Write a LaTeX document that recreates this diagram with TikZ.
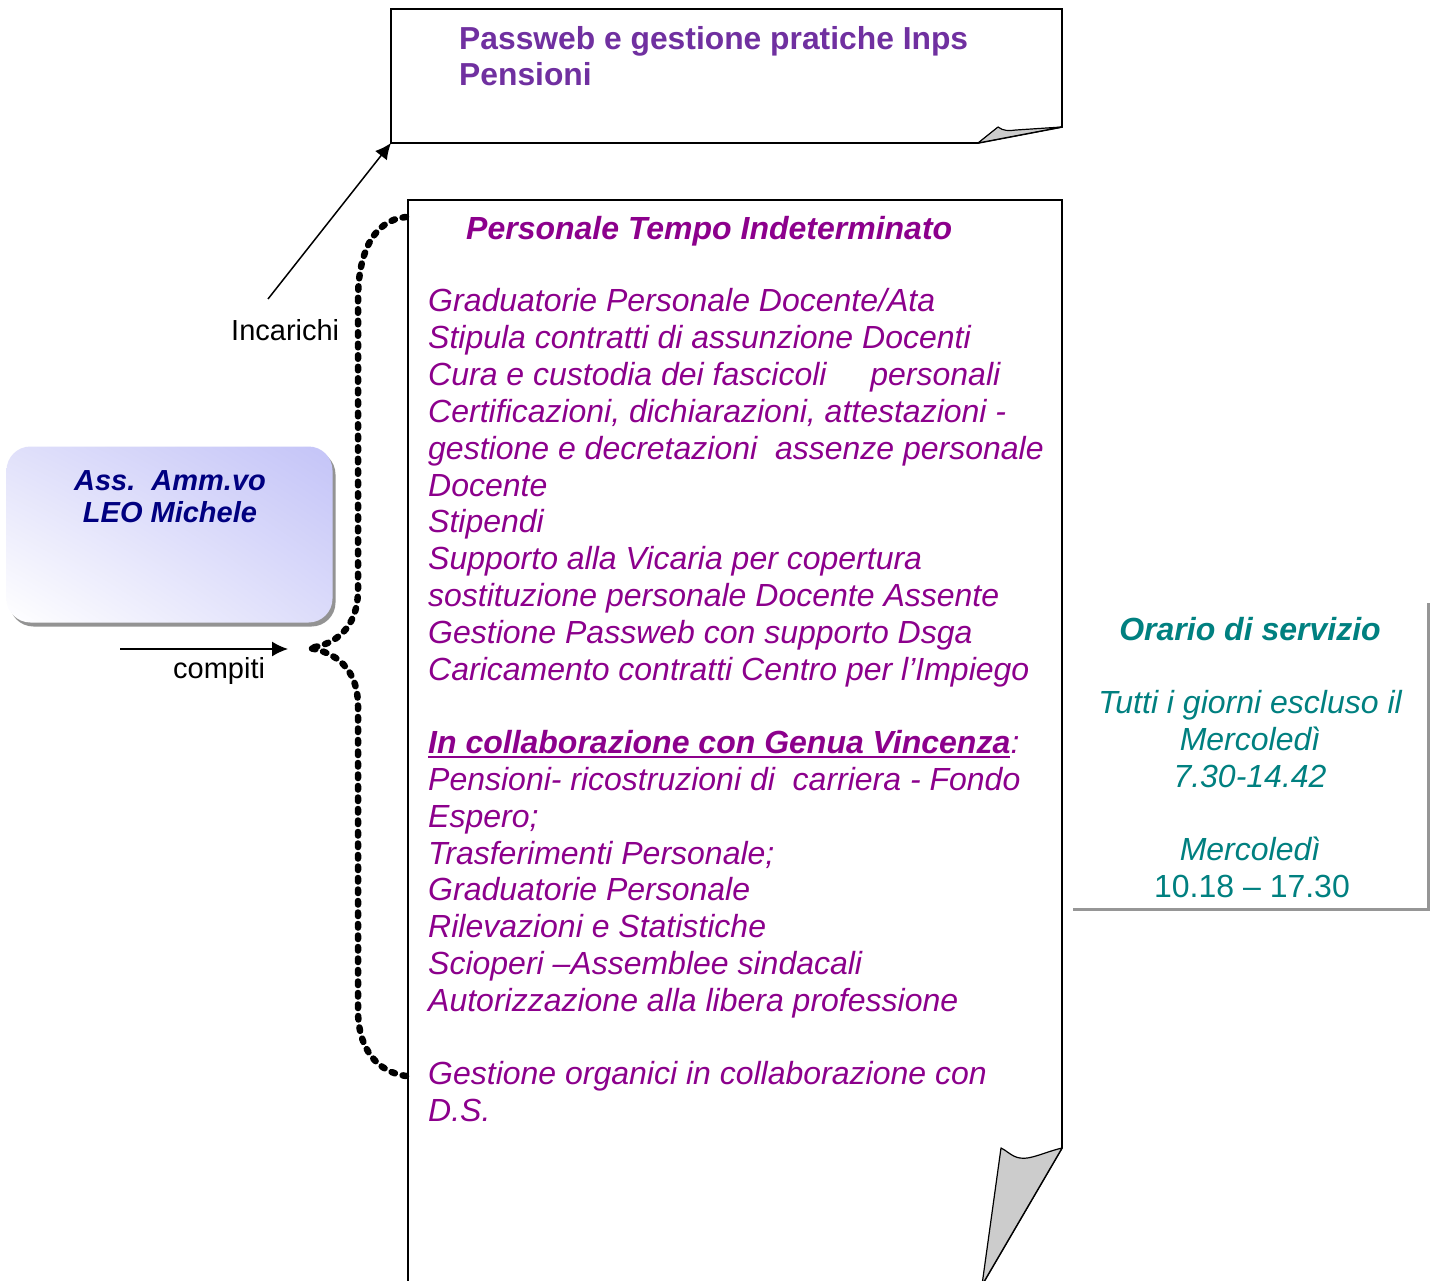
\documentclass[tikz,border=0pt]{standalone}
\usepackage{fontspec}
\setmainfont{Liberation Sans}
\usetikzlibrary{arrows.meta,shadows,shadings}
\definecolor{mainpurple}{RGB}{140,0,140}
\definecolor{toppurple}{RGB}{112,48,160}
\definecolor{navytext}{RGB}{0,0,128}
\definecolor{tealtext}{RGB}{0,128,128}
\definecolor{curlgray}{RGB}{204,204,204}
\definecolor{lineg}{RGB}{150,150,150}
\definecolor{lavA}{RGB}{224,224,250}
\definecolor{lavB}{RGB}{196,196,248}
\definecolor{lavC}{RGB}{220,220,250}
\frenchspacing
\begin{document}
\begin{tikzpicture}[x=1pt,y=-1pt,
  txt/.style={anchor=base west, inner sep=0pt, text=mainpurple, font=\fontsize{32}{36.8}\selectfont\itshape},
  txtb/.style={txt, font=\fontsize{32}{36.8}\selectfont\bfseries\itshape},
  lbl/.style={anchor=base west, inner sep=0pt, font=\fontsize{29}{33}\selectfont},
  toptxt/.style={anchor=base west, inner sep=0pt, text=toppurple, font=\fontsize{31.8}{35.6}\selectfont\bfseries},
  navy/.style={anchor=base, inner sep=0pt, text=navytext, font=\fontsize{29}{32}\selectfont\bfseries\itshape},
  tealt/.style={anchor=base, inner sep=0pt, text=tealtext, font=\fontsize{32}{36.8}\selectfont\itshape},
  boxline/.style={line width=1.7pt, line join=miter},
  curl/.style={fill=curlgray, draw=black, line width=1.2pt, line join=round},
  arr/.style={line width=1.5pt, -{Latex[length=16pt,width=15pt]}},
  bracestyle/.style={line width=6.5pt, line cap=round, dash pattern=on 3.5pt off 8pt}
]
\useasboundingbox[fill=white] (0,0) rectangle (1435,1281);

% ---------- top box ----------
\draw[boxline, fill=white] (391,143) -- (391,9) -- (1062,9) -- (1062,127) -- (978,143) -- cycle;
\draw[curl] (978,143) -- (998,127) .. controls (1003,131) and (1009,131) .. (1016,130) -- (1062,127) -- cycle;
\coordinate (tbl) at (391,143);
\node[toptxt] (t1) at (459,50) {Passweb e gestione pratiche Inps};
\node[toptxt] (t2) at (459,85.5) {Pensioni};

% ---------- main box ----------
\draw[boxline, fill=white] (408,1285) -- (408,200) -- (1062,200) -- (1062,1148) -- (982,1285);
\draw[curl] (1062,1148) .. controls (1045,1152) and (1030,1160) .. (1020,1158) .. controls (1012,1157) and (1006,1150) .. (1001,1148) -- (982,1285) -- cycle;

\node[txtb] (title) at (466,240) {Personale Tempo Indeterminato};
\node[txt] (m1) at (428,312) {Graduatorie Personale Docente/Ata};
\node[txt] (m2) at (428,348.8) {Stipula contratti di assunzione Docenti};
\node[txt] (m3) at (428,385.6) {Cura e custodia dei fascicoli\hspace{35pt} personali};
\node[txt] (m4) at (428,422.4) {Certificazioni, dichiarazioni, attestazioni -};
\node[txt] (m5) at (428,459.2) {gestione e decretazioni\ \ assenze personale};
\node[txt] (m6) at (428,496) {Docente};
\node[txt] (m7) at (428,532.8) {Stipendi};
\node[txt] (m8) at (428,569.6) {Supporto alla Vicaria per copertura};
\node[txt] (m9) at (428,606.4) {sostituzione personale Docente Assente};
\node[txt] (m10) at (428,643.2) {Gestione Passweb con supporto Dsga};
\node[txt] (m11) at (428,680) {Caricamento contratti Centro per l’Impiego};
\node[txtb] (m13) at (428,753.6) {In collaborazione con Genua Vincenza};
\node[txt] (m13c) at (m13.base east) {:};
\draw[mainpurple, line width=2pt] ([yshift=-3.5pt]m13.base west) -- ([yshift=-3.5pt]m13.base east);
\node[txt] (m14) at (428,790.4) {Pensioni- ricostruzioni di\ \ carriera - Fondo};
\node[txt] (m15) at (428,827.2) {Espero;};
\node[txt] (m16) at (428,864) {Trasferimenti Personale;};
\node[txt] (m17) at (428,900.8) {Graduatorie Personale};
\node[txt] (m18) at (428,937.6) {Rilevazioni e Statistiche};
\node[txt] (m19) at (428,974.4) {Scioperi –Assemblee sindacali};
\node[txt] (m20) at (428,1011.2) {Autorizzazione alla libera professione};
\node[txt] (m22) at (428,1084.8) {Gestione organici in collaborazione con};
\node[txt] (m23) at (428,1121.6) {D.S.};

% ---------- brace ----------
\coordinate (btop) at (406,217);
\coordinate (btip) at (309,648);
\coordinate (bbot) at (406,1076);
\draw[bracestyle] (btop) .. controls (375,220) and (358,250) .. (358,300) -- (358,590)
  .. controls (358,628) and (335,645) .. (btip)
  .. controls (335,652) and (358,668) .. (358,706) -- (358,1010)
  .. controls (358,1050) and (378,1072) .. (bbot);

% ---------- left box ----------
\node[shade, rounded corners=24pt, minimum width=326pt, minimum height=176pt, inner sep=0pt,
  upper left=lavA, upper right=lavB, lower left=white, lower right=lavC,
  drop shadow={shadow xshift=3pt, shadow yshift=-4pt, fill=gray!85, opacity=1}] (lb) at (169.5,534.5) {};
\node[navy] (ln1) at (170,490) {Ass.\ \ Amm.vo};
\node[navy] (ln2) at (170,522) {LEO Michele};

% ---------- arrows and labels ----------
\coordinate (cs) at (120,649);
\coordinate (ce) at (288,649);
\draw[arr] (cs) -- (ce);
\node[lbl] (compiti) at (173,678) {compiti};
\coordinate (is) at (268,299);
\draw[arr] (is) -- (tbl);
\node[lbl] (incarichi) at (231,341) {Incarichi};

% ---------- right box ----------
\draw[draw=lineg, line width=3pt] (1073,909) -- (1428,909) -- (1428,603);
\node[tealt, font=\fontsize{32}{36.8}\selectfont\bfseries\itshape] (r1) at (1250,640) {Orario di servizio};
\node[tealt] (r2) at (1250,713.6) {Tutti i giorni escluso il};
\node[tealt] (r3) at (1250,750.4) {Mercoledì};
\node[tealt] (r4) at (1250,787.2) {7.30-14.42};
\node[tealt] (r5) at (1250,860.8) {Mercoledì};
\node[tealt, font=\fontsize{32}{36.8}\selectfont] (r6) at (1252,897.6) {10.18 – 17.30};
\end{tikzpicture}
\end{document}
